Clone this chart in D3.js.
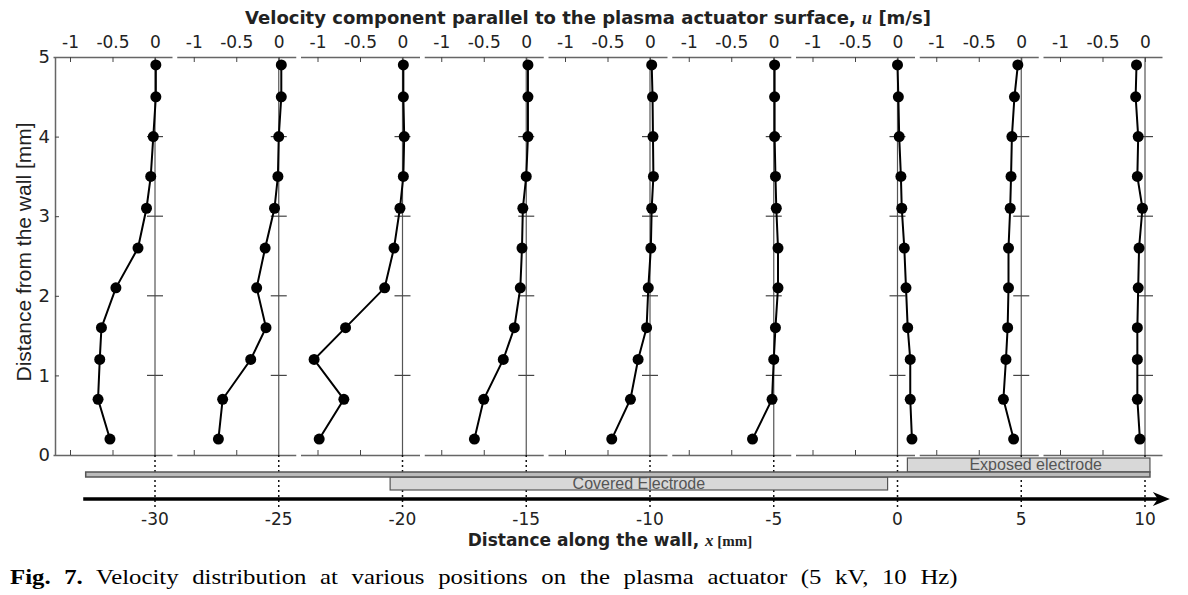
<!DOCTYPE html>
<html lang="en">
<head>
<meta charset="UTF-8">
<title>Fig. 7</title>
<style>
  body { margin: 0; background: #fff; }
  svg text { fill: #222; }
</style>
</head>
<body>
<svg id="chart" width="1188" height="595"></svg>
<script src="https://d3js.org/d3.v7.min.js"></script>
<script>
// measurement positions along the wall [mm]
var positions = [-30, -25, -20, -15, -10, -5, 0, 5, 10];
// distance from the wall [mm] of each measured point
var heights = [0.2, 0.7, 1.2, 1.6, 2.1, 2.6, 3.1, 3.5, 4.0, 4.5, 4.9];
// velocity u [m/s] at each height, one array per position
var uAtM30 = [-0.53, -0.67, -0.65, -0.63, -0.46, -0.20, -0.10, -0.05, -0.02, 0.01, 0.01];
var uAtM25 = [-0.71, -0.66, -0.33, -0.15, -0.26, -0.16, -0.05, -0.01, 0.00, 0.03, 0.03];
var uAtM20 = [-0.98, -0.69, -1.04, -0.67, -0.21, -0.10, -0.03, 0.01, 0.02, 0.01, 0.01];
var uAtM15 = [-0.61, -0.50, -0.27, -0.14, -0.07, -0.05, -0.04, 0.00, 0.02, 0.02, 0.02];
var uAtM10 = [-0.45, -0.23, -0.14, -0.04, -0.02, 0.01, 0.02, 0.04, 0.035, 0.03, 0.02];
var uAtM5 = [-0.25, -0.02, 0.00, 0.02, 0.05, 0.05, 0.03, 0.02, 0.01, 0.01, 0.01];
var uAt0 = [0.17, 0.15, 0.15, 0.12, 0.10, 0.08, 0.05, 0.04, 0.02, 0.01, 0.00];
var uAt5 = [-0.09, -0.21, -0.18, -0.16, -0.15, -0.15, -0.13, -0.12, -0.11, -0.08, -0.04];
var uAt10 = [-0.06, -0.09, -0.09, -0.09, -0.08, -0.07, -0.03, -0.09, -0.08, -0.11, -0.10];
var profiles = [uAtM30, uAtM25, uAtM20, uAtM15, uAtM10, uAtM5, uAt0, uAt5, uAt10];

// tick labels
var uTicks = [-1, -0.5, 0];
var uTickLabels = ['-1', '-0.5', '0'];
var heightTicks = [0, 1, 2, 3, 4, 5];
var xTickLabels = ['-30', '-25', '-20', '-15', '-10', '-5', '0', '5', '10'];

// electrode layout along the wall [mm]
var dielectric = [-32.8, 10.2];
var coveredElectrode = [-20.5, -0.4];
var exposedElectrode = [0.4, 10.2];
var arrowSpan = [-32.9, 10.6];

var svg = d3.select('#chart');
var sans = 'DejaVu Sans, sans-serif';
var plainSans = 'Liberation Sans, Arial, sans-serif';
var serif = 'Liberation Serif, Times New Roman, serif';

// main scales
var x = d3.scaleLinear().domain([-30, 10]).range([155, 1145]);
var y = d3.scaleLinear().domain([0, 5]).range([455, 57]);

// title
var title = svg.append('text')
  .attr('x', 588).attr('y', 24)
  .attr('text-anchor', 'middle')
  .style('font-family', sans).style('font-weight', 'bold').style('font-size', '18px')
title.append('tspan').text('Velocity component parallel to the plasma actuator surface, ')
title.append('tspan').text('u').style('font-family', serif).style('font-style', 'italic')
title.append('tspan').text(' [m/s]')

// left axis
var leftAxis = svg.append('g')
  .attr('transform', 'translate(55,0)')
  .call(d3.axisLeft(y).tickValues(heightTicks).tickFormat(d3.format('d'))
    .tickSizeInner(-4).tickSizeOuter(0).tickPadding(5))
leftAxis.select('.domain').attr('stroke', '#666').attr('stroke-width', 1.5)
leftAxis.selectAll('.tick line').attr('stroke', '#444')
leftAxis.selectAll('.tick text').style('font-family', sans).style('font-size', '18px').attr('fill', '#222')

svg.append('text')
  .attr('transform', 'translate(31,252) rotate(-90)')
  .attr('text-anchor', 'middle')
  .style('font-family', plainSans).style('font-size', '21px')
  .text('Distance from the wall [mm]')

// one small panel per measurement position
var line = d3.line()
positions.forEach(function (pos, i) {
  var x0 = x(pos)
  var u = d3.scaleLinear().domain([-1.2, 0.2]).range([x0 - 102, x0 + 17])
  var g = svg.append('g').attr('class', 'panel')

  var top = g.append('g').attr('transform', 'translate(0,57)')
    .call(d3.axisTop(u).tickValues(uTicks).tickFormat(function (d, k) { return uTickLabels[k] })
      .tickSizeInner(-5).tickSizeOuter(0).tickPadding(9))
  var bottom = g.append('g').attr('transform', 'translate(0,455)')
    .call(d3.axisBottom(u).tickValues(uTicks.slice(0, 2)).tickFormat('')
      .tickSizeInner(-5).tickSizeOuter(0))
  ;[top, bottom].forEach(function (a) {
    a.select('.domain').attr('stroke', '#666').attr('stroke-width', 1.5)
    a.selectAll('.tick line').attr('stroke', '#444')
  })
  top.selectAll('.tick text').style('font-family', sans).style('font-size', '17px').attr('fill', '#222')

  // u = 0 reference line with small height ticks
  g.append('line')
    .attr('x1', u(0)).attr('x2', u(0)).attr('y1', y(5)).attr('y2', y(0))
    .attr('stroke', '#555').attr('stroke-width', 1.2)
  g.selectAll('.hTick').data([1, 2, 3, 4]).enter().append('line')
    .attr('x1', u(0) - 8).attr('x2', u(0) + 8)
    .attr('y1', function (d) { return y(d) }).attr('y2', function (d) { return y(d) })
    .attr('stroke', '#444').attr('stroke-width', 1.2)

  // dotted drop line to the x axis
  g.append('line')
    .attr('x1', x0).attr('x2', x0).attr('y1', y(0)).attr('y2', 508)
    .attr('stroke', '#111').attr('stroke-width', 1.5).attr('stroke-dasharray', '2,3')

  var pts = heights.map(function (h, k) { return [u(profiles[i][k]), y(h)] })
  g.append('path').attr('d', line(pts))
    .attr('fill', 'none').attr('stroke', '#000').attr('stroke-width', 2)
  g.selectAll('circle').data(pts).enter().append('circle')
    .attr('cx', function (d) { return d[0] }).attr('cy', function (d) { return d[1] })
    .attr('r', 5.5).attr('fill', '#000')
})

// actuator sketch
svg.append('rect')
  .attr('x', x(exposedElectrode[0])).attr('y', 458)
  .attr('width', x(exposedElectrode[1]) - x(exposedElectrode[0])).attr('height', 14)
  .attr('fill', '#d8d8d8').attr('stroke', '#555').attr('stroke-width', 1.2)
svg.append('text')
  .attr('x', (x(exposedElectrode[0]) + x(exposedElectrode[1])) / 2 + 7).attr('y', 470)
  .attr('text-anchor', 'middle')
  .style('font-family', plainSans).style('font-size', '16px').style('fill', '#555')
  .text('Exposed electrode')
svg.append('rect')
  .attr('x', x(coveredElectrode[0])).attr('y', 477)
  .attr('width', x(coveredElectrode[1]) - x(coveredElectrode[0])).attr('height', 13)
  .attr('fill', '#d8d8d8').attr('stroke', '#555').attr('stroke-width', 1.2)
svg.append('text')
  .attr('x', (x(coveredElectrode[0]) + x(coveredElectrode[1])) / 2).attr('y', 489)
  .attr('text-anchor', 'middle')
  .style('font-family', plainSans).style('font-size', '16px').style('fill', '#555')
  .text('Covered Electrode')
svg.append('rect')
  .attr('x', x(dielectric[0])).attr('y', 472)
  .attr('width', x(dielectric[1]) - x(dielectric[0])).attr('height', 5)
  .attr('fill', '#bbb').attr('stroke', '#555').attr('stroke-width', 1.5)

// x arrow
var ay = 499
svg.append('line')
  .attr('x1', x(arrowSpan[0])).attr('x2', x(arrowSpan[1])).attr('y1', ay).attr('y2', ay)
  .attr('stroke', '#000').attr('stroke-width', 3.5)
var tip = x(arrowSpan[1]) + 10
svg.append('path')
  .attr('d', 'M' + tip + ',' + ay + 'L' + (tip - 17) + ',' + (ay - 7) + 'L' + (tip - 12) + ',' + ay +
    'L' + (tip - 17) + ',' + (ay + 7) + 'Z')
  .attr('fill', '#000')

svg.selectAll('.xLabel').data(positions).enter().append('text')
  .attr('x', function (d) { return x(d) }).attr('y', 525)
  .attr('text-anchor', 'middle')
  .style('font-family', sans).style('font-size', '17px')
  .text(function (d, k) { return xTickLabels[k] })

var xTitle = svg.append('text')
  .attr('x', 610).attr('y', 546)
  .attr('text-anchor', 'middle')
  .style('font-family', sans).style('font-weight', 'bold').style('font-size', '17px')
xTitle.append('tspan').text('Distance along the wall, ')
xTitle.append('tspan').text('x').style('font-family', serif).style('font-style', 'italic')
xTitle.append('tspan').text(' [mm]').style('font-family', serif).style('font-size', '15px')

// caption, wide glyphs and justified spacing like the original
var capScale = 1.18
var caption = svg.append('text')
  .attr('transform', 'translate(10,584) scale(' + capScale + ',1)')
  .style('font-family', serif).style('font-size', '21px').style('fill', '#000')
caption.append('tspan').text('Fig. 7.').style('font-weight', 'bold')
caption.append('tspan').text(' Velocity distribution at various positions on the plasma actuator (5 kV, 10 Hz)')
var natural = caption.node().getComputedTextLength()
var gaps = 15
caption.style('word-spacing', Math.max(0, (955 / capScale - natural) / gaps) + 'px')
</script>
</body>
</html>
